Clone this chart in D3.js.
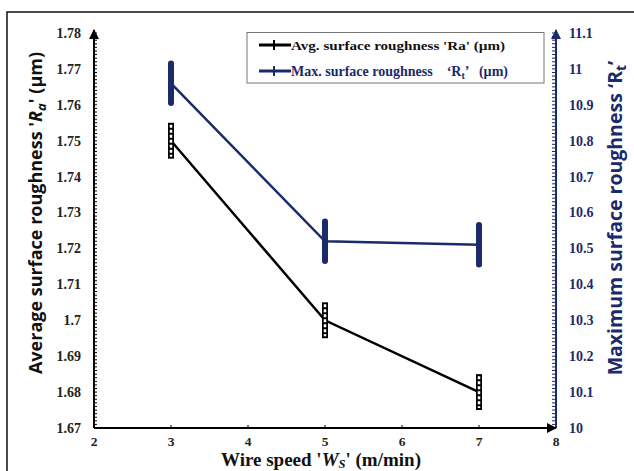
<!DOCTYPE html>
<html><head><meta charset="utf-8">
<script src="https://cdn.jsdelivr.net/npm/d3@7"></script>
<style>body{margin:0;background:#fff}svg{display:block}</style>
</head><body>
<script>
const wireSpeed = [3, 5, 7];
const raValues = [1.75, 1.70, 1.68];
const raErr = [0.005, 0.005, 0.005];
const rtValues = [10.96, 10.52, 10.51];
const rtErr = [0.055, 0.055, 0.055];
const xTicks = [2, 3, 4, 5, 6, 7, 8];
const leftTicks = [1.67, 1.68, 1.69, 1.70, 1.71, 1.72, 1.73, 1.74, 1.75, 1.76, 1.77, 1.78];
const leftTickLabels = ["1.67","1.68","1.69","1.7","1.71","1.72","1.73","1.74","1.75","1.76","1.77","1.78"];
const rightTicks = [10, 10.1, 10.2, 10.3, 10.4, 10.5, 10.6, 10.7, 10.8, 10.9, 11, 11.1];
const rightTickLabels = ["10","10.1","10.2","10.3","10.4","10.5","10.6","10.7","10.8","10.9","11","11.1"];

const W = 634, H = 471;
const navy = "#1b2a6b";
const serif = "'Liberation Serif','Times New Roman',serif";
const sans = "'Open Sans','Liberation Sans',sans-serif";

const svg = d3.select("body").append("svg").attr("width", W).attr("height", H);

svg.append("rect").attr("x", 7).attr("y", 12).attr("width", W).attr("height", H)
  .attr("fill", "none").attr("stroke", "#111").attr("stroke-width", 1.5);

const x = d3.scaleLinear().domain([2, 8]).range([94, 556]);
const yL = d3.scaleLinear().domain([1.67, 1.78]).range([428, 33]);
const yR = d3.scaleLinear().domain([10, 11.1]).range([428, 33]);

const defs = svg.append("defs");
function marker(id, color) {
  defs.append("marker").attr("id", id).attr("viewBox", "0 0 10 10").attr("refX", 9).attr("refY", 5)
    .attr("markerWidth", 5).attr("markerHeight", 5).attr("orient", "auto-start-reverse")
    .attr("markerUnits", "strokeWidth")
    .append("path").attr("d", "M0,0 L10,5 L0,10 Z").attr("fill", color);
}
marker("arrK", "#000");
marker("arrN", navy);

// left axis
const gL = svg.append("g");
const minorL = d3.range(0, 111).map(i => 1.67 + i * 0.001);
gL.selectAll("line.mn").data(minorL).join("line")
  .attr("x1", x(2)).attr("x2", x(2) + 3)
  .attr("y1", d => yL(d)).attr("y2", d => yL(d))
  .attr("stroke", "#000").attr("stroke-width", 1);
gL.append("line").attr("x1", x(2)).attr("x2", x(2)).attr("y1", yL(1.67)).attr("y2", 30)
  .attr("stroke", "#000").attr("stroke-width", 2).attr("marker-end", "url(#arrK)");
gL.selectAll("text").data(leftTicks).join("text")
  .attr("x", 81).attr("y", d => yL(d)).attr("dy", "0.35em").attr("text-anchor", "end")
  .attr("font-family", serif).attr("font-weight", "bold").attr("font-size", 14).attr("fill", "#222")
  .text((d, i) => leftTickLabels[i]);

// right axis
const gR = svg.append("g");
const minorR = d3.range(0, 111).map(i => 10 + i * 0.01);
gR.selectAll("line.mn").data(minorR).join("line")
  .attr("x1", x(8) - 4).attr("x2", x(8))
  .attr("y1", d => yR(d)).attr("y2", d => yR(d))
  .attr("stroke", navy).attr("stroke-width", 1);
gR.append("line").attr("x1", x(8)).attr("x2", x(8)).attr("y1", yR(10)).attr("y2", 30)
  .attr("stroke", navy).attr("stroke-width", 2).attr("marker-end", "url(#arrN)");
gR.selectAll("text").data(rightTicks).join("text")
  .attr("x", 569).attr("y", d => yR(d)).attr("dy", "0.35em").attr("text-anchor", "start")
  .attr("font-family", serif).attr("font-weight", "bold").attr("font-size", 14).attr("fill", navy)
  .text((d, i) => rightTickLabels[i]);

// x axis
const gX = svg.append("g");
gX.selectAll("line.tk").data(xTicks.slice(1, -1)).join("line")
  .attr("x1", d => x(d)).attr("x2", d => x(d)).attr("y1", yL(1.67)).attr("y2", yL(1.67) - 3)
  .attr("stroke", "#000").attr("stroke-width", 1);
gX.append("line").attr("x1", x(2)).attr("x2", x(8)).attr("y1", yL(1.67)).attr("y2", yL(1.67))
  .attr("stroke", "#000").attr("stroke-width", 2).attr("marker-end", "url(#arrK)");
gX.selectAll("text").data(xTicks).join("text")
  .attr("x", d => x(d)).attr("y", 446).attr("text-anchor", "middle")
  .attr("font-family", serif).attr("font-weight", "bold").attr("font-size", 13.5).attr("fill", "#222")
  .text(d => d);

// series lines
const lineL = d3.line().x((d, i) => x(wireSpeed[i])).y(d => yL(d));
const lineR = d3.line().x((d, i) => x(wireSpeed[i])).y(d => yR(d));
svg.append("path").attr("d", lineR(rtValues)).attr("fill", "none").attr("stroke", navy).attr("stroke-width", 2.5);
svg.append("path").attr("d", lineL(raValues)).attr("fill", "none").attr("stroke", "#000").attr("stroke-width", 2.5);

// Rt error bars
svg.selectAll("line.rte").data(rtValues).join("line")
  .attr("x1", (d, i) => x(wireSpeed[i])).attr("x2", (d, i) => x(wireSpeed[i]))
  .attr("y1", (d, i) => yR(d + rtErr[i])).attr("y2", (d, i) => yR(d - rtErr[i]))
  .attr("stroke", navy).attr("stroke-width", 6).attr("stroke-linecap", "round");

// Ra error bars
svg.selectAll("line.rae").data(raValues).join("line")
  .attr("x1", (d, i) => x(wireSpeed[i])).attr("x2", (d, i) => x(wireSpeed[i]))
  .attr("y1", (d, i) => yL(d + raErr[i])).attr("y2", (d, i) => yL(d - raErr[i]))
  .attr("stroke", "#000").attr("stroke-width", 6);
svg.selectAll("line.raw").data(raValues).join("line")
  .attr("x1", (d, i) => x(wireSpeed[i])).attr("x2", (d, i) => x(wireSpeed[i]))
  .attr("y1", (d, i) => yL(d + raErr[i]) + 2).attr("y2", (d, i) => yL(d - raErr[i]) - 2)
  .attr("stroke", "#fff").attr("stroke-width", 2.5).attr("stroke-dasharray", "3,2");

// legend
const lg = svg.append("g");
lg.append("rect").attr("x", 247).attr("y", 32.5).attr("width", 297).attr("height", 50.5)
  .attr("fill", "#fff").attr("stroke", "#777").attr("stroke-width", 1);
[{color: "#000", y: 45}, {color: navy, y: 71}].forEach(it => {
  lg.append("line").attr("x1", 259).attr("x2", 291).attr("y1", it.y).attr("y2", it.y)
    .attr("stroke", it.color).attr("stroke-width", 3);
  lg.append("line").attr("x1", 274).attr("x2", 274).attr("y1", it.y - 5).attr("y2", it.y + 5)
    .attr("stroke", it.color).attr("stroke-width", 2);
});
lg.append("text").attr("x", 291).attr("y", 45).attr("dy", "0.35em")
  .attr("font-family", serif).attr("font-weight", "bold").attr("font-size", 13.5).attr("fill", "#111")
  .attr("textLength", 214).attr("lengthAdjust", "spacingAndGlyphs")
  .text("Avg. surface roughness 'Ra' (\u00b5m)");
const t2 = lg.append("text").attr("x", 291).attr("y", 71).attr("dy", "0.35em")
  .attr("font-family", serif).attr("font-weight", "bold").attr("font-size", 14).attr("fill", navy)
  .attr("xml:space", "preserve");
t2.append("tspan").text("Max. surface roughness    \u2018R");
t2.append("tspan").attr("font-size", 10).attr("dy", 3).text("t");
t2.append("tspan").attr("dy", -3).text("\u2019   (\u00b5m)");

function placeRotated(textSel, bx, cy) {
  textSel.attr("text-anchor", "start").attr("transform", `translate(${bx},0) rotate(-90)`);
  const w = textSel.node().getBBox().width;
  textSel.attr("transform", `translate(${bx},${cy + w / 2}) rotate(-90)`);
}
const tl = svg.append("text")
  .attr("font-family", sans).attr("font-weight", "bold").attr("font-size", 18).attr("fill", "#111");
tl.append("tspan").text("Average surface roughness '");
tl.append("tspan").attr("font-style", "italic").text("R");
tl.append("tspan").attr("font-style", "italic").attr("font-size", 13).attr("dy", 4).text("a");
tl.append("tspan").attr("dy", -4).text("' (\u00b5m)");
placeRotated(tl, 42, 213);

const tr = svg.append("text")
  .attr("font-family", sans).attr("font-weight", "bold").attr("font-size", 19.5).attr("fill", navy);
tr.append("tspan").text("Maximum surface roughness \u2018R");
tr.append("tspan").attr("font-size", 14).attr("dy", 4).text("t");
tr.append("tspan").attr("dy", -4).text("\u2019");
placeRotated(tr, 622, 218);

const tx = svg.append("text").attr("y", 466)
  .attr("font-family", serif).attr("font-weight", "bold").attr("font-size", 19).attr("fill", "#111");
tx.append("tspan").text("Wire speed '");
tx.append("tspan").attr("font-style", "italic").text("W");
tx.append("tspan").attr("font-style", "italic").attr("font-size", 12.5).attr("dy", 2).text("S");
tx.append("tspan").attr("dy", -2).text("' (m/min)");
const txw = tx.node().getBBox().width;
tx.attr("x", 321 - txw / 2);
</script>
</body></html>
